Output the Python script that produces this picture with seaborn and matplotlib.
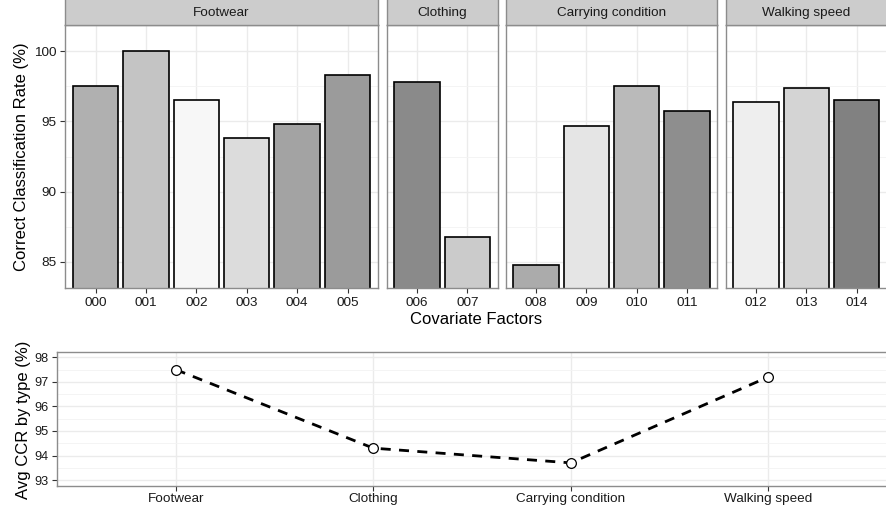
import numpy as np
import pandas as pd
import matplotlib
matplotlib.use("Agg")
import matplotlib.pyplot as plt
import seaborn as sns
from matplotlib.ticker import FixedLocator

# ---------------- data ----------------
factors = ["000", "001", "002", "003", "004", "005", "006", "007",
           "008", "009", "010", "011", "012", "013", "014"]
groups = (["Footwear"] * 6 + ["Clothing"] * 2 +
          ["Carrying condition"] * 4 + ["Walking speed"] * 3)
ccr = [97.5, 100.0, 96.5, 93.8, 94.8, 98.3,
       97.8, 86.8,
       84.8, 94.7, 97.5, 95.7,
       96.4, 97.4, 96.5]
bar_colors = ["#B0B0B0", "#C4C4C4", "#F7F7F7", "#DCDCDC", "#A3A3A3", "#9B9B9B",
              "#8A8A8A", "#CBCBCB",
              "#ABABAB", "#E5E5E5", "#BABABA", "#8E8E8E",
              "#EEEEEE", "#D4D4D4", "#818181"]
group_names = ["Footwear", "Clothing", "Carrying condition", "Walking speed"]
avg_ccr = [97.5, 94.3, 93.7, 97.2]

df = pd.DataFrame({"factor": factors, "group": groups, "ccr": ccr})
avg_df = pd.DataFrame({"type": group_names, "avg": avg_ccr})
palette = dict(zip(factors, bar_colors))

# ---------------- style ----------------
sns.set_theme(style="white")
plt.rcParams["font.family"] = ["Liberation Sans", "DejaVu Sans"]

W, H = 886, 515
fig = plt.figure(figsize=(W / 100, H / 100), dpi=100)
fig.patch.set_facecolor("white")


def px_axes(x0, y0, x1, y1):
    return fig.add_axes([x0 / W, 1 - y1 / H, (x1 - x0) / W, (y1 - y0) / H])


BORDER = "#8C8C8C"
GRID = "#EBEBEB"
TICKC = "#333333"
TXT = "#1A1A1A"
TICKFS = 9.7


def style_axes(ax):
    for s in ax.spines.values():
        s.set_color(BORDER)
        s.set_linewidth(1.0)
        s.set_visible(True)
    ax.set_axisbelow(True)
    ax.grid(True, which="major", color=GRID, linewidth=1.0)
    ax.grid(True, which="minor", axis="y", color="#F3F3F3", linewidth=0.6)
    ax.tick_params(axis="both", which="major", length=3.5, width=0.8,
                   color=TICKC, labelsize=TICKFS, labelcolor=TXT, pad=3,
                   direction="out", bottom=True, left=True)
    ax.tick_params(axis="both", which="minor", length=0)


# ---------------- top faceted bar panels ----------------
unit = 50.4
lefts = [65.3, 386.7, 505.7, 725.7]
top_y0, top_y1 = 25, 288
strip_y0 = -3

for gi, g in enumerate(group_names):
    sub = df[df["group"] == g]
    n = len(sub)
    x0 = lefts[gi]
    x1 = x0 + (n + 0.2) * unit
    ax = px_axes(x0, top_y0, x1, top_y1)
    sns.barplot(data=sub, x="factor", y="ccr", hue="factor", palette=palette,
                legend=False, width=0.9, saturation=1, edgecolor="black",
                linewidth=1.2, ax=ax)
    ax.set_xlim(-0.6, n - 0.4)
    ax.set_ylim(83.15, 101.85)
    ax.yaxis.set_major_locator(FixedLocator([85, 90, 95, 100]))
    ax.yaxis.set_minor_locator(FixedLocator([82.5, 87.5, 92.5, 97.5]))
    ax.set_xlabel("")
    ax.set_ylabel("")
    style_axes(ax)
    if gi > 0:
        ax.tick_params(axis="y", left=False, labelleft=False)
    # strip
    sax = px_axes(x0, strip_y0, x1, top_y0)
    sax.set_facecolor("#CCCCCC")
    sax.set_xticks([])
    sax.set_yticks([])
    for s in sax.spines.values():
        s.set_color(BORDER)
        s.set_linewidth(1.0)
    sax.text(0.5, 0.42, g, transform=sax.transAxes, ha="center", va="center",
             fontsize=TICKFS, color=TXT)

fig.text(476 / W, 1 - 319 / H, "Covariate Factors", ha="center", va="center",
         fontsize=12, color="black")
fig.text(22 / W, 1 - 156.5 / H, "Correct Classification Rate (%)", ha="center",
         va="center", rotation=90, fontsize=12, color="black")

# ---------------- bottom line panel ----------------
ax2 = px_axes(57.3, 351.7, 886.8, 485.7)
sns.lineplot(data=avg_df, x="type", y="avg", color="black", linewidth=2.0,
             marker="o", markersize=7, markerfacecolor="white",
             markeredgecolor="black", markeredgewidth=0.9, ax=ax2, sort=False)
for ln in ax2.lines:
    ln.set_linestyle((0, (3.6, 3.0)))
ax2.set_xlim(-0.6, 3.6)
ax2.set_ylim(92.77, 98.23)
ax2.yaxis.set_major_locator(FixedLocator([93, 94, 95, 96, 97, 98]))
ax2.yaxis.set_minor_locator(FixedLocator([92.5, 93.5, 94.5, 95.5, 96.5, 97.5]))
ax2.set_xlabel("")
ax2.set_ylabel("")
style_axes(ax2)
ax2.tick_params(axis="y", labelsize=9.2)
ax2.tick_params(axis="x", pad=2)
fig.text(23.5 / W, 1 - 420 / H, "Avg CCR by type (%)", ha="center",
         va="center", rotation=90, fontsize=12, color="black")

fig.savefig("out.png", dpi=100, facecolor="white")
